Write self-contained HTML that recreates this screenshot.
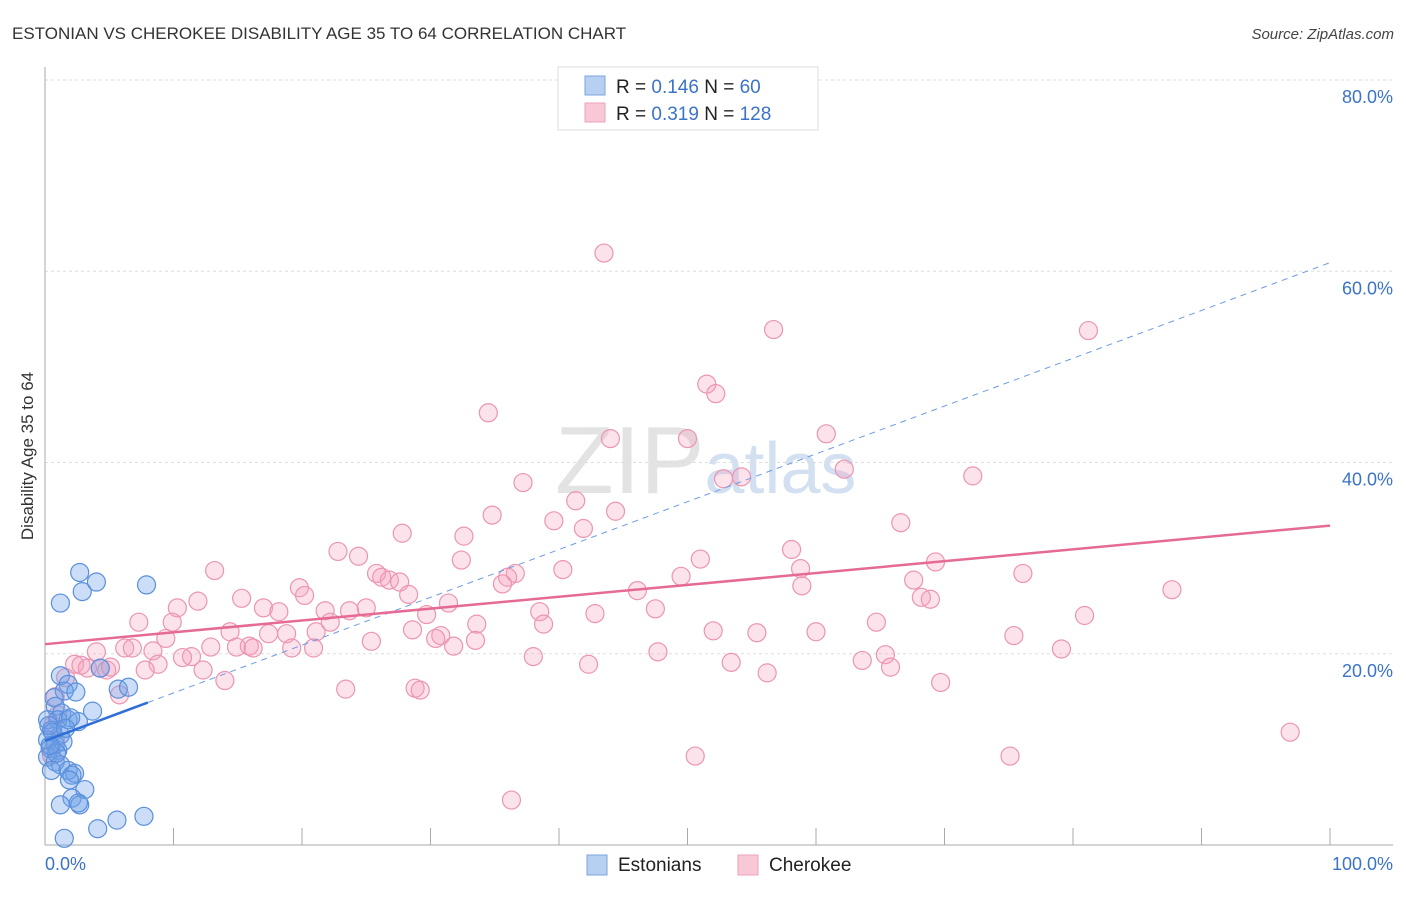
<!DOCTYPE html>
<html><head><meta charset="utf-8"><style>
body{margin:0;background:#fff;font-family:"Liberation Sans",sans-serif}
svg text{font-family:"Liberation Sans",sans-serif}
</style></head><body>
<svg id="chart" width="1406" height="892" viewBox="0 0 1406 892" xmlns="http://www.w3.org/2000/svg">
<text x="12" y="39" font-size="17" fill="#333">ESTONIAN VS CHEROKEE DISABILITY AGE 35 TO 64 CORRELATION CHART</text>
<text x="1394" y="39" font-size="15" fill="#444" text-anchor="end" font-style="italic">Source: ZipAtlas.com</text>
<text x="555" y="493" font-size="96" fill="#ddd" font-family="Liberation Serif" opacity="0.8">ZIP<tspan font-family="Liberation Sans" font-size="72" fill="#c9d9ee">atlas</tspan></text>
<g id="grid"></g>
<g id="axes"></g>
<g id="pts"></g>
<g id="lines"></g>
<text transform="translate(33,456) rotate(-90)" font-size="17" fill="#333" text-anchor="middle">Disability Age 35 to 64</text>
<text x="45" y="870" font-size="18" fill="#3b73c9">0.0%</text>
<text x="1393" y="870" font-size="18" fill="#3b73c9" text-anchor="end">100.0%</text>
<g>
<rect x="558" y="67" width="260" height="63" fill="#fff" stroke="#ddd"/>
<rect x="585" y="76" width="20" height="19" fill="#b7d0f2" stroke="#7da6e0"/>
<rect x="585" y="103" width="20" height="19" fill="#f8c8d6" stroke="#eea3ba"/>
<text x="616" y="93" font-size="19" fill="#222">R = <tspan fill="#3b73c9">0.146</tspan>   N = <tspan fill="#3b73c9"> 60</tspan></text>
<text x="616" y="120" font-size="19" fill="#222">R = <tspan fill="#3b73c9">0.319</tspan>   N = <tspan fill="#3b73c9">128</tspan></text>
</g>
<g>
<rect x="587" y="855" width="20" height="20" fill="#b7d0f2" stroke="#7da6e0"/>
<text x="618" y="871" font-size="19" fill="#222">Estonians</text>
<rect x="738" y="855" width="20" height="20" fill="#f8c8d6" stroke="#eea3ba"/>
<text x="769" y="871" font-size="19" fill="#222">Cherokee</text>
</g>
</svg>
<script>
const yTicks=[20,40,60,80];
const xTicks=[0,10,20,30,40,50,60,70,80,90,100];
const estX=[2.7,4.0,7.9,2.9,1.2,4.3,5.7,6.5,1.2,1.8,1.5,2.4,0.7,0.8,3.7,1.3,0.2,1.0,1.8,2.6,0.5,1.2,0.2,0.8,0.4,1.0,0.2,0.8,1.2,1.8,2.3,2.1,0.5,1.9,3.1,2.1,1.2,2.7,2.6,5.6,4.1,7.7,1.5,0.3,0.6,1.4,2.0,0.9,1.6,0.4];
const estY=[28.5,27.5,27.2,26.5,25.3,18.5,16.3,16.5,17.7,16.8,16.1,16.0,15.4,14.5,14.0,13.8,13.1,13.1,13.1,12.9,12.0,11.5,11.0,10.5,10.1,9.9,9.2,8.7,8.4,7.8,7.5,7.3,7.8,6.8,5.8,4.9,4.2,4.2,4.4,2.6,1.7,3.0,0.7,12.5,11.8,10.8,13.3,9.6,12.2,10.4];
const cheX=[43.5,56.7,81.2,51.5,52.2,34.5,44.0,50.0,60.8,62.2,52.8,54.2,72.2,37.2,41.3,44.4,34.8,39.6,66.6,41.9,27.8,32.6,58.1,22.8,24.4,51.0,32.4,69.3,40.3,25.8,26.2,36.6,36.0,13.2,58.8,49.5,76.1,26.8,27.6,35.6,58.9,67.6,19.8,20.2,28.3,46.1,87.7,15.3,11.9,68.2,68.9,31.4,10.3,17.0,25.0,18.2,21.8,23.7,38.5,42.8,47.5,29.7,80.9,7.3,9.9,22.2,38.8,33.6,64.7,28.6,14.4,17.4,18.8,21.1,30.8,52.0,55.4,60.0,75.4,9.4,30.4,25.4,33.5,12.9,14.9,15.9,16.2,19.2,20.9,31.8,6.2,6.8,8.4,4.0,79.1,47.7,65.4,11.4,10.7,38.0,63.6,2.3,2.8,3.3,4.3,4.8,5.1,8.8,53.4,42.3,65.8,12.3,7.8,56.2,14.0,69.7,23.4,28.8,29.2,5.8,96.9,50.6,75.1,36.3,1.6,0.8,1.0,0.6,0.8,0.5];
const cheY=[61.9,53.9,53.8,48.2,47.2,45.2,42.5,42.5,43.0,39.3,38.3,38.5,38.6,37.9,36.0,34.9,34.5,33.9,33.7,33.1,32.6,32.3,30.9,30.7,30.2,29.9,29.8,29.6,28.8,28.4,28.0,28.4,28.0,28.7,28.9,28.1,28.4,27.7,27.5,27.3,27.1,27.7,26.9,26.1,26.2,26.6,26.7,25.8,25.5,25.9,25.7,25.3,24.8,24.8,24.8,24.4,24.5,24.5,24.4,24.2,24.7,24.1,24.0,23.3,23.3,23.3,23.1,23.1,23.3,22.5,22.3,22.1,22.1,22.3,21.9,22.4,22.2,22.3,21.9,21.6,21.6,21.3,21.4,20.7,20.7,20.8,20.6,20.6,20.6,20.8,20.6,20.6,20.3,20.2,20.5,20.2,19.9,19.7,19.6,19.7,19.3,18.9,18.8,18.5,18.5,18.3,18.6,18.9,19.1,18.9,18.6,18.3,18.3,18.0,17.2,17.0,16.3,16.4,16.2,15.7,11.8,9.3,9.3,4.7,17.5,15.5,13.6,12.5,11.0,9.4];
const estFit=[10.9,0.5];   // intercept, slope
const cheFit=[21.0,0.124];
const sx=v=>45+v*12.85;
const sy=v=>845-v*9.5625;
const NS='http://www.w3.org/2000/svg';
function mk(tag,attrs,parent){const e=document.createElementNS(NS,tag);for(const k in attrs)e.setAttribute(k,attrs[k]);document.getElementById(parent).appendChild(e);return e;}
yTicks.forEach(t=>{
  const l=mk('line',{x1:45,x2:1393,y1:sy(t),y2:sy(t),stroke:'#ddd','stroke-dasharray':'3,3'},'grid');
  
  
  const tx=mk('text',{x:1393,y:sy(t)+23,'font-size':18,fill:'#3b73c9','text-anchor':'end'},'grid');
  tx.textContent=t.toFixed(1)+'%';
  
  
});
const ax=mk('line',{x1:45,x2:45,y1:67,y2:845,stroke:'#aaa'},'axes');


const bx=mk('line',{x1:45,x2:1393,y1:845,y2:845,stroke:'#aaa'},'axes');


xTicks.forEach(t=>{
  const l=mk('line',{x1:sx(t),x2:sx(t),y1:828,y2:845,stroke:'#aaa'},'axes');
  
  
});
cheX.forEach((x,i)=>{
  const c=mk('circle',{cx:sx(x),cy:sy(cheY[i]),r:9,fill:'rgba(244,160,188,0.3)',stroke:'#eb95b1','stroke-width':1.2},'pts');
  
  
});
estX.forEach((x,i)=>{
  const c=mk('circle',{cx:sx(x),cy:sy(estY[i]),r:9,fill:'rgba(110,160,232,0.35)',stroke:'#5a8fdc','stroke-width':1.2},'pts');
  
  
});
const bd=mk('line',{x1:sx(8),y1:sy(estFit[0]+estFit[1]*8),x2:sx(100),y2:sy(estFit[0]+estFit[1]*100),stroke:'#6c9be0','stroke-width':1,'stroke-dasharray':'6,5'},'lines');


const bs=mk('line',{x1:sx(0),y1:sy(estFit[0]),x2:sx(8),y2:sy(estFit[0]+estFit[1]*8),stroke:'#2f6fd6','stroke-width':2.5},'lines');


const ps=mk('line',{x1:sx(0),y1:sy(cheFit[0]),x2:sx(100),y2:sy(cheFit[0]+cheFit[1]*100),stroke:'#e56a95','stroke-width':2.5},'lines');


</script>
</body></html>
